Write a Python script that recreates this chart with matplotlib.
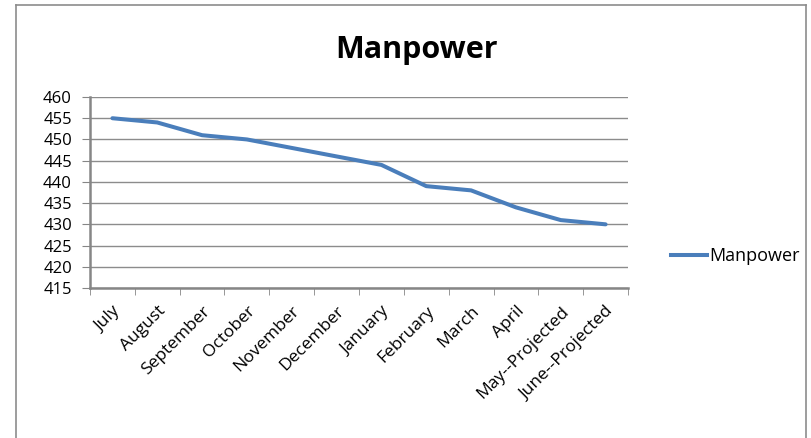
import matplotlib
matplotlib.use("Agg")
import matplotlib.pyplot as plt
import numpy as np
from matplotlib.lines import Line2D

# data
months = ["July", "August", "September", "October", "November", "December",
          "January", "February", "March", "April", "May--Projected", "June--Projected"]
manpower = [455, 454, 451, 450, 448, 446, 444, 439, 438, 434, 431, 430]
yticks = list(range(415, 461, 5))

plt.rcParams['font.family'] = ['Open Sans', 'DejaVu Sans']

W, H = 811, 438
fig = plt.figure(figsize=(W / 100, H / 100), dpi=100)
ax = fig.add_axes([90 / W, 1 - 288 / H, (628 - 90) / W, (288 - 97) / H])

x = np.arange(len(months))
ax.plot(x, manpower, color="#4a7ebb", lw=2.9, solid_capstyle="round",
        solid_joinstyle="round", label="Manpower")

ax.set_xlim(-0.5, len(months) - 0.5)
ax.set_ylim(415, 460)
ax.set_yticks(yticks)
ax.tick_params(axis="y", labelsize=12, length=6, color="#868686", pad=7)
ax.yaxis.grid(True, color="#8c8c8c", lw=1)
ax.set_axisbelow(True)

# category labels centred, ticks on the boundaries
ax.set_xticks(x)
ax.set_xticklabels(months, rotation=45, ha="right", rotation_mode="anchor", fontsize=12.5)
ax.tick_params(axis="x", length=0, pad=11)
ax.set_xticks(np.arange(-0.5, len(months)), minor=True)
ax.tick_params(axis="x", which="minor", length=5, color="#868686")

for s in ["top", "right"]:
    ax.spines[s].set_visible(False)
for s in ["left", "bottom"]:
    ax.spines[s].set_color("#868686")
    ax.spines[s].set_linewidth(1.8)

fig.text(416 / W, 1 - 50 / H, "Manpower", ha="center", va="center",
         fontsize=22, fontweight="bold")

# legend on the right
fig.legend(handles=[Line2D([], [], color="#4a7ebb", lw=2.9, label="Manpower")],
           loc="center left", bbox_to_anchor=(655 / W, 1 - 256 / H), frameon=False,
           fontsize=13, handlelength=2.0, handletextpad=0.1)

# chart frame
frame = dict(color="#8c8c8c", lw=1.2)
fig.add_artist(Line2D([16 / W, 16 / W], [0, 1 - 5 / H], transform=fig.transFigure, **frame))
fig.add_artist(Line2D([16 / W, 806 / W], [1 - 5 / H, 1 - 5 / H], transform=fig.transFigure, **frame))
fig.add_artist(Line2D([806 / W, 806 / W], [0, 1 - 5 / H], transform=fig.transFigure, **frame))

fig.savefig("out.png", dpi=100)
